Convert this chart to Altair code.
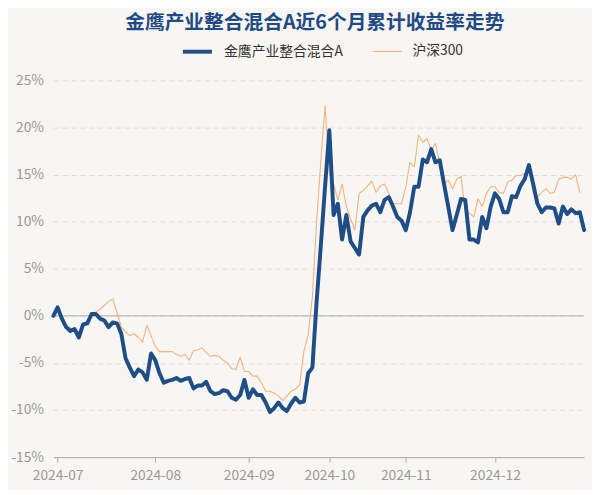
import altair as alt
import pandas as pd

series_names = ["金鹰产业整合混合A", "沪深300"]

fund = [
    0.0, 0.9, -0.3, -1.2, -1.6, -1.4, -2.3, -0.9, -0.8, 0.2,
    0.2, -0.3, -0.5, -1.2, -0.7, -0.8, -1.9, -4.5, -5.5, -6.4,
    -5.7, -6.0, -6.8, -4.0, -4.7, -6.1, -7.1, -6.9, -6.8, -6.6,
    -6.9, -6.7, -6.6, -7.7, -7.4, -7.4, -7.0, -8.0, -8.3, -8.2,
    -7.9, -8.0, -8.7, -8.9, -8.4, -6.8, -8.7, -7.8, -8.4, -8.4,
    -9.2, -10.2, -9.8, -9.2, -9.8, -10.1, -9.3, -8.7, -9.2, -9.1,
    -6.1, -5.5, 1.5, 7.5, 13.8, 19.7, 10.7, 11.9, 8.1, 10.7,
    7.9, 7.2, 6.5, 10.5, 11.2, 11.7, 11.9, 11.0, 12.3, 12.6,
    11.6, 10.5, 10.1, 9.1, 11.0, 13.7, 13.7, 16.6, 16.3, 17.7,
    16.3, 16.5, 14.0, 11.6, 9.1, 10.7, 12.4, 12.3, 8.1, 8.1,
    7.8, 10.5, 9.3, 11.6, 13.0, 12.4, 11.0, 11.0, 12.7, 12.6,
    13.8, 14.5, 16.0, 14.0, 11.9, 11.0, 11.5, 11.5, 11.4, 9.8,
    11.6, 10.8, 11.3, 10.9, 11.0, 9.1,
]

hs300 = [
    0.0, 0.5, -0.4, -1.0, -1.3, -1.5, -1.7, -0.7, -0.7, 0.2,
    0.4, 0.7, 1.1, 1.5, 1.8, 0.3, -1.2, -1.7, -2.1, -1.9,
    -2.3, -2.8, -1.0, -2.1, -3.2, -3.8, -3.8, -3.8, -3.8, -4.1,
    -4.3, -4.1, -4.7, -3.7, -3.6, -3.4, -3.9, -4.3, -4.2, -4.3,
    -4.7, -5.0, -5.6, -5.7, -4.4, -5.9, -5.9, -6.4, -6.4, -7.1,
    -8.0, -8.0, -8.2, -8.5, -9.0, -8.5, -8.0, -7.8, -7.3, -3.8,
    -2.0, 2.0, 10.0, 16.5, 22.3, 15.2, 14.0, 12.3, 14.0, 11.6,
    10.3, 9.1, 13.0, 13.3, 13.8, 14.3, 13.1, 13.8, 14.0, 13.0,
    11.9, 11.9, 11.9, 13.7, 16.3, 15.8, 19.2, 18.4, 18.8, 17.6,
    18.3, 16.1, 14.0, 14.4, 13.5, 14.5, 14.8, 11.2, 10.9, 10.5,
    12.4, 11.6, 13.0, 13.7, 13.7, 13.1, 13.0, 14.2, 14.4, 14.9,
    14.9, 15.1, 15.8, 13.1, 12.6, 13.1, 13.5, 13.0, 13.1, 14.5,
    14.7, 14.7, 14.5, 15.0, 13.1,
]

tick_index = [1, 24, 46, 65, 83, 104]
tick_labels = ["2024-07", "2024-08", "2024-09", "2024-10", "2024-11", "2024-12"]
y_ticks = [-15, -10, -5, 0, 5, 10, 15, 20, 25]

rows = []
for i, v in enumerate(hs300):
    rows.append({"i": i, "v": v, "s": series_names[1]})
for i, v in enumerate(fund):
    rows.append({"i": i, "v": v, "s": series_names[0]})
df = pd.DataFrame(rows)

FONT = "Noto Sans CJK SC"
label_expr = "{}[indexof({}, datum.value)]".format(
    "[" + ",".join("'%s'" % t for t in tick_labels) + "]",
    "[" + ",".join(str(t) for t in tick_index) + "]",
)

color_scale = alt.Scale(domain=series_names, range=["#1f4e87", "#f2b27e"])
width_scale = alt.Scale(domain=series_names, range=[4, 1.1])
y_scale = alt.Scale(domain=[-15, 25], nice=False)

x_enc = alt.X(
    "i:Q",
    scale=alt.Scale(domain=[0, 125], nice=False, zero=False),
    axis=alt.Axis(
        values=tick_index, labelExpr=label_expr, title=None, grid=False,
        domainColor="#aaaaaa", tickColor="#aaaaaa", tickSize=5,
        labelColor="#999999", labelFontSize=14, labelFont=FONT, labelPadding=7,
    ),
)
y_axis = alt.Axis(
    values=y_ticks, labelExpr="datum.value + '%'", title=None,
    domain=False, ticks=False, grid=True, gridDash=[5, 4],
    gridColor="#dddddd", gridWidth=1,
    labelColor="#999999", labelFontSize=14, labelFont=FONT, labelPadding=10,
)
y_enc = alt.Y("v:Q", scale=y_scale, axis=y_axis)

legend = alt.Legend(
    title=None, orient="none", direction="horizontal", legendX=129, legendY=-46,
    symbolType="stroke", symbolSize=870, labelFont=FONT, labelFontSize=14,
    labelColor="#333333", columnPadding=27, labelOffset=10, symbolStrokeWidth=4,
)

base = alt.Chart(df)

zero = alt.Chart(pd.DataFrame({"z": [0]})).mark_rule(color="#c4c4c4", strokeWidth=1.5).encode(
    y=alt.Y("z:Q", scale=y_scale, axis=y_axis)
)

def series_layer(name):
    return base.transform_filter(alt.datum.s == name).mark_line(
        strokeJoin="round", strokeCap="round"
    ).encode(
        x=x_enc, y=y_enc,
        color=alt.Color("s:N", scale=color_scale, legend=legend, sort=series_names),
        strokeWidth=alt.StrokeWidth("s:N", scale=width_scale, legend=None),
    )

chart = alt.layer(zero, series_layer(series_names[1]), series_layer(series_names[0])).properties(
    width=538,
    height=382,
    title=alt.TitleParams(
        "金鹰产业整合混合A近6个月累计收益率走势", anchor="middle", font=FONT,
        fontSize=20, fontWeight="bold", color="#1f4a85", offset=2, dx=-4,
    ),
    autosize=alt.AutoSizeParams(type="none"),
    padding={"left": 46, "top": 70, "right": 8, "bottom": 30},
    background="#f8f6f2",
).configure_view(stroke=None)

chart.save("out.html", embed_options={"renderer": "svg", "actions": False})
